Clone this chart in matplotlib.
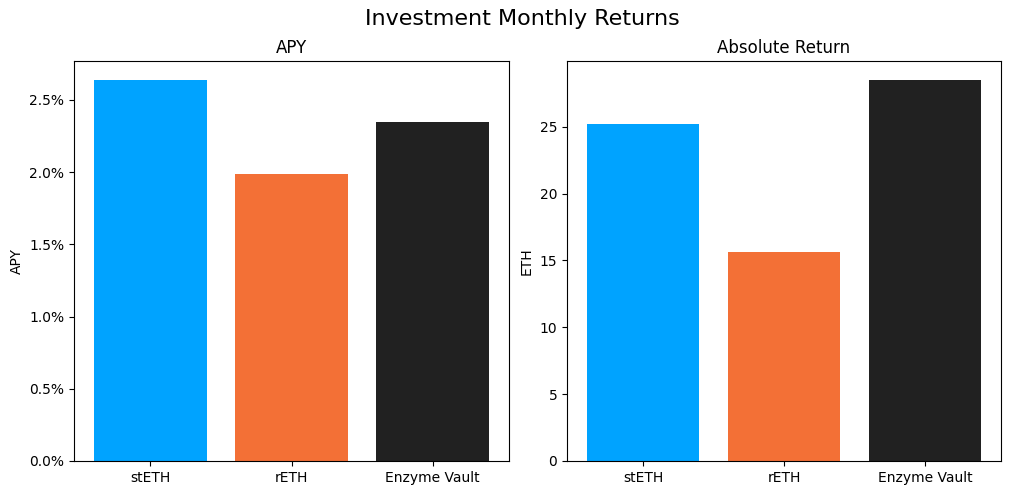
import matplotlib
matplotlib.use("Agg")
import matplotlib.pyplot as plt
from matplotlib.ticker import PercentFormatter

categories = ["stETH", "rETH", "Enzyme Vault"]
apy_values = [0.02638, 0.01989, 0.02348]
eth_values = [25.22, 15.67, 28.5]
colors = ["#00A3FF", "#F37036", "#212121"]

W, H = 1011, 495
fig = plt.figure(figsize=(W / 100, H / 100), dpi=100)
ax1 = fig.add_axes([74 / W, 1 - 461 / H, (509 - 74) / W, 400 / H])
ax2 = fig.add_axes([567 / W, 1 - 461 / H, (1001 - 567) / W, 400 / H])

ax1.bar(categories, apy_values, color=colors)
ax1.yaxis.set_major_formatter(PercentFormatter(xmax=1, decimals=1))
ax1.set_title("APY")
ax1.set_ylabel("APY")

ax2.bar(categories, eth_values, color=colors)
ax2.set_title("Absolute Return")
ax2.set_ylabel("ETH")

fig.suptitle("Investment Monthly Returns", fontsize=16, x=522 / W, y=1 - 19 / H, va="center")
fig.savefig("out.png", dpi=100)
